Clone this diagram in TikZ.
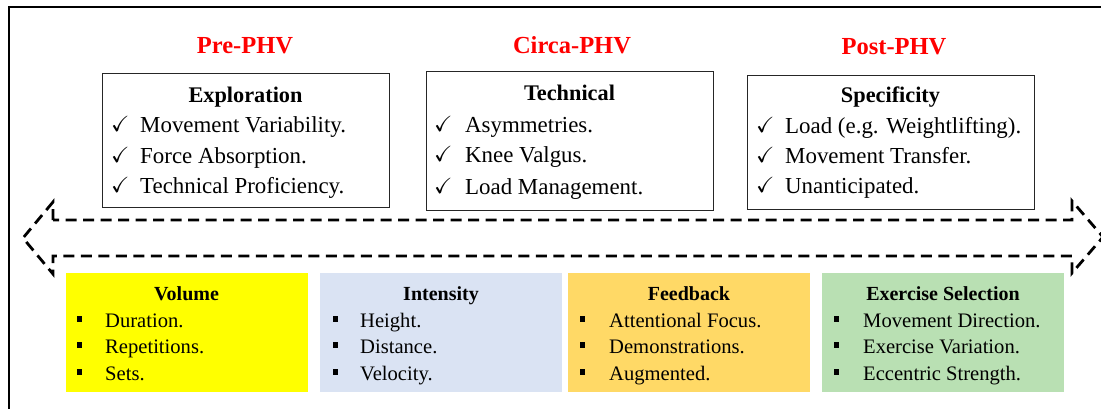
\documentclass[tikz,border=0pt]{standalone}
\usepackage{amssymb}
\usepackage{fontspec}
\setmainfont{Liberation Serif}
\definecolor{cVol}{HTML}{FFFF00}
\definecolor{cInt}{HTML}{DAE3F3}
\definecolor{cFb}{HTML}{FFD966}
\definecolor{cEx}{HTML}{B9E0B3}
\definecolor{cRed}{HTML}{FF0000}
\begin{document}
\begin{tikzpicture}[x=1pt,y=-1pt,
  topbox/.style={draw=black!85,line width=1pt,inner sep=0pt},
  botbox/.style={draw=none,inner sep=0pt,minimum width=242pt,minimum height=119pt},
  phase/.style={anchor=base,text=cRed,font=\fontsize{24.5}{28}\selectfont\bfseries},
  tophead/.style={anchor=base,font=\fontsize{22.3}{26}\selectfont\bfseries},
  topitem/.style={anchor=base west,inner sep=0pt,font=\fontsize{22.9}{26}\selectfont},
  chk/.style={anchor=base west,inner sep=0pt,font=\fontsize{22}{26}\selectfont},
  bothead/.style={anchor=base,font=\fontsize{20}{23}\selectfont\bfseries},
  botitem/.style={anchor=base west,inner sep=0pt,font=\fontsize{20.6}{23}\selectfont},
  sq/.style={fill=black,inner sep=0pt,minimum size=5.5pt},
  arrowline/.style={line width=2.8pt,dash pattern=on 11pt off 6.5pt,line join=miter}]
\useasboundingbox (0,0) rectangle (1101,408);
\clip (0,0) rectangle (1101,408);
% outer frame (only top and left visible)
\coordinate (fA) at (9,412);
\coordinate (fB) at (9,7);
\coordinate (fC) at (1105,7);
\draw[line width=2.2pt] (fA) -- (fB) -- (fC);

% phase titles
\node[phase] (p1) at (245,53) {Pre-PHV};
\node[phase] (p2) at (572,53) {Circa-PHV};
\node[phase] (p3) at (894,54) {Post-PHV};

% top boxes
\node[topbox,minimum width=287pt,minimum height=134pt] (t1) at (245.5,140) {};
\node[topbox,minimum width=287pt,minimum height=139pt] (t2) at (569.5,140.5) {};
\node[topbox,minimum width=287pt,minimum height=134pt] (t3) at (890.5,142) {};

\node[tophead] (t1h) at (245.5,102) {Exploration};
\node[chk] (t1c1) at (111,131) {$\checkmark$};
\node[chk] (t1c2) at (111,162) {$\checkmark$};
\node[chk] (t1c3) at (111,192) {$\checkmark$};
\node[topitem] (t1i1) at (140,132) {Movement Variability.};
\node[topitem] (t1i2) at (140,163) {Force Absorption.};
\node[topitem] (t1i3) at (140,193) {Technical Proficiency.};

\node[tophead] (t2h) at (569.5,100) {Technical};
\node[chk] (t2c1) at (434,131) {$\checkmark$};
\node[chk] (t2c2) at (434,161) {$\checkmark$};
\node[chk] (t2c3) at (434,193) {$\checkmark$};
\node[topitem] (t2i1) at (465,132) {Asymmetries.};
\node[topitem] (t2i2) at (465,162) {Knee Valgus.};
\node[topitem] (t2i3) at (465,194) {Load Management.};

\node[tophead] (t3h) at (890.5,102) {Specificity};
\node[chk] (t3c1) at (756,132) {$\checkmark$};
\node[chk] (t3c2) at (756,162) {$\checkmark$};
\node[chk] (t3c3) at (756,192) {$\checkmark$};
\node[topitem] (t3i1) at (785,133) {Load (e.g. Weightlifting).};
\node[topitem] (t3i2) at (785,163) {Movement Transfer.};
\node[topitem] (t3i3) at (785,193) {Unanticipated.};

% double-headed dashed block arrow
\coordinate (a1) at (53,220);
\coordinate (a2) at (53,202);
\coordinate (a3) at (23,238);
\coordinate (a4) at (53,274);
\coordinate (a5) at (53,256);
\coordinate (a6) at (1072,256);
\coordinate (a7) at (1072,273);
\coordinate (a8) at (1103,237);
\coordinate (a9) at (1072,201);
\coordinate (a10) at (1072,220);
\draw[arrowline] (a1) -- (a2) -- (a3) -- (a4) -- (a5) -- (a6) -- (a7) -- (a8) -- (a9) -- (a10) -- cycle;

% bottom boxes
\node[botbox,fill=cVol] (b1) at (186.5,332.5) {};
\node[botbox,fill=cInt] (b2) at (441,332.5) {};
\node[botbox,fill=cFb] (b3) at (689,332.5) {};
\node[botbox,fill=cEx] (b4) at (943,332.5) {};

\node[bothead] (b1h) at (186.5,300) {Volume};
\node[sq] (b1s1) at (79.5,319) {};
\node[sq] (b1s2) at (79.5,345) {};
\node[sq] (b1s3) at (79.5,372) {};
\node[botitem] (b1i1) at (105,327) {Duration.};
\node[botitem] (b1i2) at (105,353) {Repetitions.};
\node[botitem] (b1i3) at (105,380) {Sets.};

\node[bothead] (b2h) at (441,300) {Intensity};
\node[sq] (b2s1) at (335.5,319) {};
\node[sq] (b2s2) at (335.5,345) {};
\node[sq] (b2s3) at (335.5,372) {};
\node[botitem] (b2i1) at (360,327) {Height.};
\node[botitem] (b2i2) at (360,353) {Distance.};
\node[botitem] (b2i3) at (360,380) {Velocity.};

\node[bothead] (b3h) at (689,300) {Feedback};
\node[sq] (b3s1) at (582.5,319) {};
\node[sq] (b3s2) at (582.5,345) {};
\node[sq] (b3s3) at (582.5,372) {};
\node[botitem] (b3i1) at (609,327) {Attentional Focus.};
\node[botitem] (b3i2) at (609,353) {Demonstrations.};
\node[botitem] (b3i3) at (609,380) {Augmented.};

\node[bothead] (b4h) at (943,300) {Exercise Selection};
\node[sq] (b4s1) at (836.5,319) {};
\node[sq] (b4s2) at (836.5,345) {};
\node[sq] (b4s3) at (836.5,372) {};
\node[botitem] (b4i1) at (863,327) {Movement Direction.};
\node[botitem] (b4i2) at (863,353) {Exercise Variation.};
\node[botitem] (b4i3) at (863,380) {Eccentric Strength.};
\end{tikzpicture}
\end{document}
